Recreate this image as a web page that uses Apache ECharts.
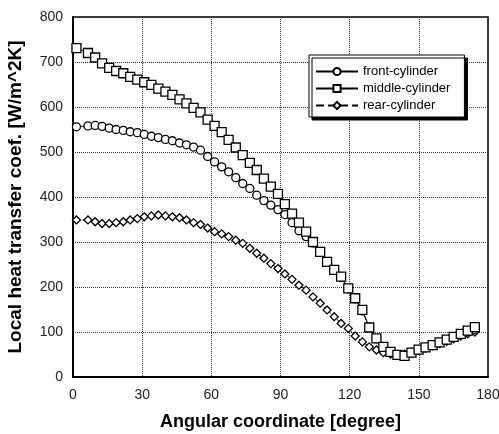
<!DOCTYPE html>
<html>
<head>
<meta charset="utf-8">
<script src="https://cdn.jsdelivr.net/npm/echarts@6/dist/echarts.min.js"></script>
<style>
  html, body { margin: 0; padding: 0; background: #fff; }
  #main { width: 499px; height: 434px; }
</style>
</head>
<body>
<div id="main"></div>
<script>
// angular positions [degree]
var angles = [1.5, 6.5, 9.6, 12.6, 15.7, 18.7, 21.8, 24.8, 27.9, 30.9, 34.0, 37.0, 40.1, 43.1,
  46.2, 49.2, 52.3, 55.3, 58.4, 61.4, 64.5, 67.5, 70.6, 73.6, 76.7, 79.7, 82.8, 85.8, 88.9,
  91.9, 95.0, 98.0, 101.1, 104.1, 107.2, 110.2, 113.3, 116.3, 119.4, 122.4, 125.5, 128.5,
  131.6, 134.6, 137.7, 140.7, 143.8, 146.8, 149.9, 152.9, 156.0, 159.0, 162.1, 165.1, 168.2,
  171.2, 174.3];

// local heat transfer coef. [W/m^2K]
var frontCylinder = [556, 558, 559, 557, 553, 550, 548, 545, 543, 539, 535, 532, 528, 525,
  520, 516, 511, 504, 490, 478, 467, 456, 443, 430, 419, 404, 392, 382, 372,
  361, 343, 325, 312, 298, 277, 255, 237, 221, 196, 174, 147, 110,
  85, 66, 55, 49, 48, 53, 60, 65, 70, 76, 82, 88, 95,
  101, 106];

var middleCylinder = [731, 720, 710, 697, 687, 680, 675, 667, 661, 655, 649, 641, 634, 627,
  617, 608, 598, 588, 572, 558, 544, 527, 510, 493, 476, 460, 441, 423, 407,
  384, 363, 343, 323, 300, 278, 256, 238, 223, 197, 175, 149, 110,
  86, 67, 56, 49, 47, 54, 61, 66, 71, 77, 83, 89, 96,
  103, 111];

var rearCylinder = [349, 349, 345, 341, 341, 343, 345, 349, 352, 356, 358, 360, 358, 356,
  354, 349, 343, 339, 331, 323, 318, 312, 304, 297, 286, 275, 264, 252, 241,
  229, 217, 204, 193, 178, 164, 149, 134, 119, 108, 91, 78, 67,
  60, 54, 51, 50, 51, 55, 59, 64, 69, 74, 79, 85, 91,
  96, 100];

var xTicks = [0, 30, 60, 90, 120, 150, 180];
var yTicks = [0, 100, 200, 300, 400, 500, 600, 700, 800];

var font = "'Liberation Sans', Arial, sans-serif";

function pairs(vals) {
  return angles.map(function (a, i) { return [a, vals[i]]; });
}

function mkSeries(name, vals, symbol, size, dashed) {
  return {
    name: name,
    type: 'line',
    data: pairs(vals),
    symbol: symbol,
    symbolSize: size,
    showAllSymbol: true,
    lineStyle: { color: '#000', width: 1, type: dashed ? 'dashed' : 'solid' },
    itemStyle: { color: '#fff', borderColor: '#000', borderWidth: 1.3 },
    emphasis: { disabled: true },
    animation: false
  };
}

var myChart = echarts.init(document.getElementById('main'), null, { renderer: 'canvas' });

var option = {
  backgroundColor: '#fff',
  textStyle: { fontFamily: font },
  grid: {
    left: 73, right: 11, top: 17, bottom: 57,
    outerBoundsMode: 'none',
    show: true,
    borderColor: '#000',
    borderWidth: 1.5,
    backgroundColor: 'transparent'
  },
  legend: {
    orient: 'vertical',
    left: 309,
    top: 55,
    padding: [10, 14, 5, 6],
    itemWidth: 42,
    itemHeight: 9,
    itemGap: 4,
    backgroundColor: '#fff',
    borderColor: '#000',
    borderWidth: 1,
    shadowColor: '#000',
    shadowBlur: 0,
    shadowOffsetX: 3,
    shadowOffsetY: 3,
    textStyle: { fontFamily: font, fontSize: 13, color: '#000' },
    data: ['front-cylinder', 'middle-cylinder', 'rear-cylinder']
  },
  xAxis: {
    type: 'value',
    min: xTicks[0],
    max: xTicks[xTicks.length - 1],
    interval: 30,
    name: 'Angular coordinate [degree]',
    nameLocation: 'middle',
    nameGap: 36,
    nameTextStyle: { fontFamily: font, fontSize: 18, fontWeight: 'bold', color: '#000' },
    axisLine: { show: true, onZero: false, lineStyle: { color: '#000', width: 2 } },
    axisTick: { show: false },
    axisLabel: { fontFamily: font, fontSize: 14, color: '#222', margin: 11 },
    splitLine: { show: true, lineStyle: { color: '#333', type: 'dotted', width: 1 } }
  },
  yAxis: {
    type: 'value',
    min: yTicks[0],
    max: yTicks[yTicks.length - 1],
    interval: 100,
    name: 'Local heat transfer coef. [W/m^2K]',
    nameLocation: 'middle',
    nameRotate: 90,
    nameGap: 48,
    nameTextStyle: { fontFamily: font, fontSize: 19, fontWeight: 'bold', color: '#000' },
    axisLine: { show: true, onZero: false, lineStyle: { color: '#000', width: 2 } },
    axisTick: { show: false },
    axisLabel: { fontFamily: font, fontSize: 14, color: '#222', margin: 10 },
    splitLine: { show: true, lineStyle: { color: '#333', type: 'dotted', width: 1 } }
  },
  series: [
    mkSeries('rear-cylinder', rearCylinder, 'diamond', 8, true),
    mkSeries('front-cylinder', frontCylinder, 'circle', 8, false),
    mkSeries('middle-cylinder', middleCylinder, 'rect', 9, false)
  ]
};

myChart.setOption(option);
</script>
</body>
</html>
